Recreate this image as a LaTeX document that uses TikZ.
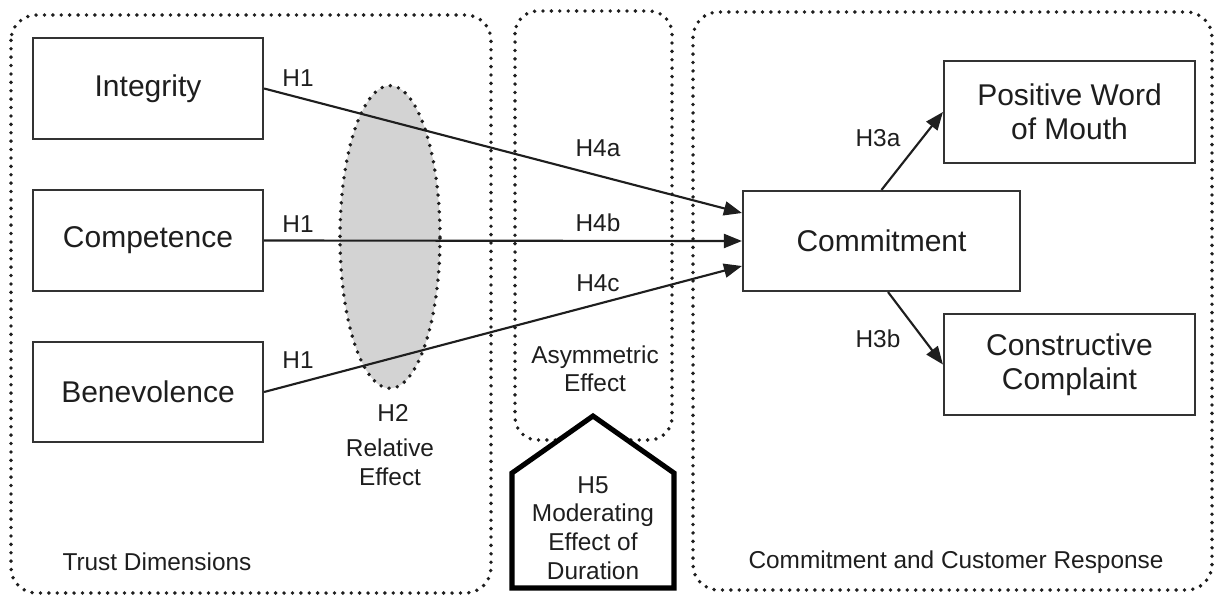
\documentclass[tikz,border=0pt]{standalone}
\usepackage{fontspec}
\setmainfont{Liberation Sans}
\usetikzlibrary{shapes.geometric,arrows.meta,calc}
\definecolor{ink}{HTML}{1E1E1E}
\definecolor{boxline}{HTML}{333333}
\definecolor{shade}{HTML}{D3D3D3}
\begin{document}
\begin{tikzpicture}[x=0.75pt,y=-0.75pt,
  every node/.style={text=ink},
  group/.style={draw=ink, line width=2.9pt, dash pattern=on 0pt off 6.3pt, line cap=round},
  concept/.style={draw=boxline, line width=1.6pt, fill=white, inner sep=0pt,
    font=\fontsize{22.5}{25.5}\selectfont, align=center},
  hyp/.style={font=\fontsize{18.3}{21}\selectfont, align=center, inner sep=1pt},
  link/.style={draw=ink, line width=1.6pt, -{Triangle[length=13.5pt,width=10.5pt]}},
]
\useasboundingbox (0,0) rectangle (1216,596);

% dotted group frames
\draw[group, rounded corners=19pt] (11,15) rectangle (491,593);
\draw[group, rounded corners=17pt] (515,11) rectangle (672,440);
\draw[group, rounded corners=19pt] (693,12) rectangle (1212,590);

% relative-effect ellipse
\node[ellipse, group, fill=shade, minimum width=75pt, minimum height=227pt] (rel) at (390,237) {};

% moderator pentagon
\draw[line width=3.8pt, line join=miter, fill=white, draw=black]
  (512,588) -- (512,473) -- (593,416) -- (674,473) -- (674,588) -- cycle;

% constructs
\node[concept, minimum width=172.5pt, minimum height=75.75pt] (integ) at (148,88.5) {Integrity};
\node[concept, minimum width=172.5pt, minimum height=75.75pt] (compe) at (148,240.5) {Competence};
\node[concept, minimum width=172.5pt, minimum height=75pt] (benev) at (148,392) {Benevolence};
\node[concept, minimum width=207.75pt, minimum height=75pt] (commit) at (881.5,241) {Commitment};
\node[concept, minimum width=188.25pt, minimum height=76.5pt] (pwom) at (1069.5,112) {Positive Word\\of Mouth};
\node[concept, minimum width=188.25pt, minimum height=75.75pt] (cc) at (1069.5,364.5) {Constructive\\Complaint};

% paths
\draw[link] (integ.east) -- ([yshift=21pt]commit.west);
\draw[link] (compe.east) -- (commit.west);
\draw[link] (benev.east) -- ([yshift=-18.75pt]commit.west);
\draw[link] (commit.north) -- (pwom.west);
\draw[link] ([xshift=4.9pt]commit.south) -- (cc.west);

% hypothesis labels
\node[hyp] (h1a) at (298,78) {H1};
\node[hyp] (h1b) at (298,224) {H1};
\node[hyp] (h1c) at (298,360) {H1};
\node[hyp] (h4a) at (598,148) {H4a};
\node[hyp] (h4b) at (598,223) {H4b};
\node[hyp] (h4c) at (598,283) {H4c};
\node[hyp] (h3a) at (878,138) {H3a};
\node[hyp] (h3b) at (878,339) {H3b};
\node[hyp] (asym) at (595,369) {Asymmetric\\Effect};
\node[hyp] (h2) at (393,413) {H2};
\node[hyp, font=\fontsize{18.3}{22}\selectfont] (relx) at (390,462) {Relative\\Effect};
\node[hyp, font=\fontsize{18.3}{21.5}\selectfont] (h5) at (593,528) {H5\\Moderating\\Effect of\\Duration};

% group captions
\node[hyp] (trust) at (157,562) {Trust Dimensions};
\node[hyp] (resp) at (956,562) {Commitment and Customer Response};
\end{tikzpicture}
\end{document}
